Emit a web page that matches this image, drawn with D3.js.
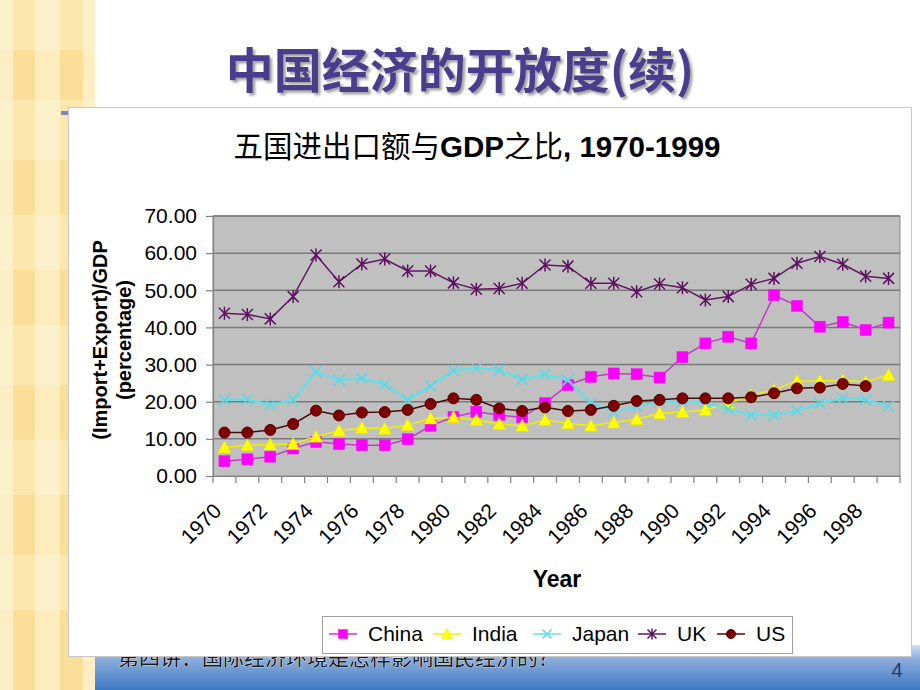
<!DOCTYPE html>
<html><head><meta charset="utf-8">
<script src="https://cdn.jsdelivr.net/npm/d3@7/dist/d3.min.js"></script>
<style>
html,body{margin:0;padding:0;background:#fff;}
svg{display:block;font-family:"Liberation Sans",Arial,sans-serif;}
</style></head>
<body>
<svg id="c" width="920" height="690"></svg>
<script>
const years = [1970,1971,1972,1973,1974,1975,1976,1977,1978,1979,1980,1981,1982,1983,1984,1985,1986,1987,1988,1989,1990,1991,1992,1993,1994,1995,1996,1997,1998,1999];
const tickYears = [1970,1972,1974,1976,1978,1980,1982,1984,1986,1988,1990,1992,1994,1996,1998];
const yTicks = [0,10,20,30,40,50,60,70];
const china = [4.0,4.5,5.2,7.4,9.2,8.6,8.3,8.3,9.9,13.5,15.9,17.3,16.4,15.8,19.6,24.5,26.7,27.6,27.4,26.5,32.0,35.7,37.5,35.7,48.7,45.8,40.2,41.5,39.3,41.3];
const india = [7.7,8.3,8.5,8.6,10.6,12.2,13.0,12.7,13.7,15.5,15.8,15.1,14.0,13.5,15.1,14.2,13.5,14.4,15.3,16.9,17.2,17.8,19.6,21.8,23.2,25.6,25.6,25.8,25.4,27.2];
const japan = [20.5,20.6,19.1,20.5,28.1,25.8,26.3,24.7,20.5,24.2,28.4,29.0,28.5,26.0,27.4,25.8,19.6,17.3,18.7,20.0,20.0,20.0,18.0,16.4,16.4,17.6,19.6,20.9,20.5,18.8];
const uk = [43.8,43.5,42.3,48.3,59.5,52.3,57.1,58.4,55.2,55.2,52.0,50.3,50.5,51.9,56.8,56.5,51.9,51.9,49.6,51.7,50.7,47.4,48.3,51.6,53.2,57.3,59.1,57.0,53.8,53.2];
const us = [11.7,11.7,12.4,14.0,17.6,16.3,17.1,17.2,17.8,19.4,20.9,20.5,18.2,17.5,18.5,17.5,17.8,18.9,20.2,20.5,20.9,20.9,20.9,21.2,22.3,23.6,23.8,24.8,24.2,null];
const seriesNames = ["China","India","Japan","UK","US"];

const series = [
  {name:"China", values:china, line:"#c23cc8", lw:1.5, marker:"square", fill:"#ff00ff", stroke:"#ff00ff"},
  {name:"India", values:india, line:"#f2f000", lw:1.5, marker:"triangle", fill:"#ffff00", stroke:"#e8e000"},
  {name:"Japan", values:japan, line:"#6cdce4", lw:2.5, marker:"x", fill:"none", stroke:"#5cd8e4"},
  {name:"UK", values:uk, line:"#5e1a5e", lw:1.5, marker:"star", fill:"none", stroke:"#5e1060"},
  {name:"US", values:us, line:"#4a0a0a", lw:1.5, marker:"circle", fill:"#800000", stroke:"#500000"}
];

const svg = d3.select("#c");
const defs = svg.append("defs");
const gb = defs.append("linearGradient").attr("id","blueg").attr("x1",0).attr("y1",0).attr("x2",0).attr("y2",1);
gb.append("stop").attr("offset","0%").attr("stop-color","#d4e0f2");
gb.append("stop").attr("offset","30%").attr("stop-color","#8eaedc");
gb.append("stop").attr("offset","100%").attr("stop-color","#3c78c2");
const sh = defs.append("filter").attr("id","tshadow").attr("x","-5%").attr("y","-20%").attr("width","110%").attr("height","140%");
sh.append("feDropShadow").attr("dx",2.5).attr("dy",2.5).attr("stdDeviation",1).attr("flood-color","#9a9a9a").attr("flood-opacity",0.9);
defs.append("clipPath").attr("id","botclip").append("rect").attr("x",95).attr("y",657).attr("width",825).attr("height",33);

// left decorative band
const bg = svg.append("g");
const cols = [[0,13,"#fdf1cc","#fdeec4"],[13,35,"#fce8ae","#fbdf98"],[35,60,"#fdf1cc","#fdecbc"],[60,83,"#fce8ae","#fbdf98"],[83,95,"#fdf1cc","#fdeec6"]];
const rowEdges = [0,50,100,160,215,270,325,385,440,495,555,610,690];
cols.forEach(c=>{
  for(let i=0;i<rowEdges.length-1;i++){
    bg.append("rect").attr("x",c[0]).attr("y",rowEdges[i]).attr("width",c[1]-c[0]).attr("height",rowEdges[i+1]-rowEdges[i])
      .attr("fill", i%2===1 ? c[3] : c[2]);
  }
});

// bottom blue bar
svg.append("rect").attr("x",95).attr("y",645).attr("width",825).attr("height",45).attr("fill","url(#blueg)");
svg.append("text").attr("x",118).attr("y",665).attr("clip-path","url(#botclip)").attr("font-family","'Noto Sans CJK SC',sans-serif").attr("font-size",21)
  .attr("fill","#1a1a1a").attr("stroke","#ffffff").attr("stroke-width",0.6).attr("paint-order","stroke")
  .text("第四讲：国际经济环境是怎样影响国民经济的？");
svg.append("text").attr("x",897).attr("y",677).attr("text-anchor","middle").attr("font-size",20).attr("fill","#1f3a6e").text("4");

// slide title
svg.append("text").attr("x",460).attr("y",88).attr("text-anchor","middle")
  .attr("font-family","'Noto Sans CJK SC',sans-serif").attr("font-weight","bold").attr("font-size",48)
  .attr("fill","#4b3c8e").attr("filter","url(#tshadow)").text("中国经济的开放度(续)");

// white chart box
svg.append("rect").attr("x",61).attr("y",111).attr("width",7).attr("height",4).attr("fill","#7f85c4");
svg.append("rect").attr("x",68.5).attr("y",107.5).attr("width",843).attr("height",549).attr("fill","#ffffff").attr("stroke","#c8c8c8").attr("stroke-width",1);

// chart title
const tt = svg.append("text").attr("x",477).attr("y",157).attr("text-anchor","middle").attr("font-size",29.5).attr("fill","#000");
tt.append("tspan").attr("font-family","'Noto Sans CJK SC',sans-serif").text("五国进出口额与");
tt.append("tspan").attr("font-weight","bold").text("GDP");
tt.append("tspan").attr("font-family","'Noto Sans CJK SC',sans-serif").text("之比");
tt.append("tspan").attr("font-weight","bold").text(", 1970-1999");

// plot
const L=213, R=900, T=216, B=476;
const x = d3.scaleBand().domain(years).range([L,R]).padding(0);
const cx = d => x(d) + x.bandwidth()/2;
const y = d3.scaleLinear().domain([0,70]).range([B,T]);

svg.append("rect").attr("x",L).attr("y",T).attr("width",R-L).attr("height",B-T).attr("fill","#c0c0c0").attr("stroke","#8a8a8a").attr("stroke-width",1);
svg.append("g").selectAll("line").data(yTicks.filter(v=>v>0)).join("line")
  .attr("x1",L).attr("x2",R).attr("y1",d=>y(d)).attr("y2",d=>y(d)).attr("stroke","#7a7a7a").attr("stroke-width",1.5);

// y axis
const ya = svg.append("g").attr("transform",`translate(${L},0)`)
  .call(d3.axisLeft(y).tickValues(yTicks).tickSize(7).tickPadding(9).tickFormat(d3.format(".2f")));
ya.select(".domain").attr("stroke","#808080").attr("stroke-width",1.2);
ya.selectAll(".tick line").attr("stroke","#808080").attr("stroke-width",1.2);
ya.selectAll("text").attr("font-size",21).attr("font-family","'Liberation Sans',Arial,sans-serif").attr("fill","#000");

// x axis
const xa = svg.append("g").attr("transform",`translate(0,${B})`)
  .call(d3.axisBottom(x).tickSize(0).tickFormat(""));
xa.select(".domain").attr("stroke","#808080").attr("stroke-width",1.2);
xa.selectAll(".tick").remove();
const edges = years.map(d=>x(d)).concat([R]);
svg.append("g").selectAll("line").data(edges).join("line")
  .attr("x1",d=>d).attr("x2",d=>d).attr("y1",B).attr("y2",B+7).attr("stroke","#808080").attr("stroke-width",1.2);
svg.append("g").selectAll("text").data(tickYears).join("text")
  .attr("transform",d=>`translate(${cx(d)-7},${B+31}) rotate(-45)`)
  .attr("text-anchor","end").attr("dy","0.35em").attr("font-size",21).attr("fill","#000").text(d=>d);

// axis titles
svg.append("text").attr("x",557).attr("y",587).attr("text-anchor","middle").attr("font-weight","bold").attr("font-size",23).text("Year");
svg.append("text").attr("transform","translate(107,340) rotate(-90)").attr("text-anchor","middle").attr("font-weight","bold").attr("font-size",20).text("(Import+Export)/GDP");
svg.append("text").attr("transform","translate(131,340) rotate(-90)").attr("text-anchor","middle").attr("font-weight","bold").attr("font-size",20).text("(percentage)");

// markers
function drawMarker(g, s, px, py, size){
  const h=size/2;
  if(s.marker==="square"){
    g.append("rect").attr("x",px-h).attr("y",py-h).attr("width",size).attr("height",size).attr("fill",s.fill).attr("stroke",s.stroke).attr("stroke-width",0.5);
  } else if(s.marker==="triangle"){
    g.append("path").attr("d",`M${px},${py-h-1}L${px+h+1},${py+h}L${px-h-1},${py+h}Z`).attr("fill",s.fill).attr("stroke",s.stroke).attr("stroke-width",0.5);
  } else if(s.marker==="x"){
    g.append("path").attr("d",`M${px-h},${py-h}L${px+h},${py+h}M${px-h},${py+h}L${px+h},${py-h}`).attr("stroke",s.stroke).attr("stroke-width",1.6).attr("fill","none");
  } else if(s.marker==="star"){
    g.append("path").attr("d",`M${px-h},${py-h}L${px+h},${py+h}M${px-h},${py+h}L${px+h},${py-h}M${px},${py-h-1}L${px},${py+h+1}`).attr("stroke",s.stroke).attr("stroke-width",1.5).attr("fill","none");
  } else if(s.marker==="circle"){
    g.append("circle").attr("cx",px).attr("cy",py).attr("r",h).attr("fill",s.fill).attr("stroke",s.stroke).attr("stroke-width",1);
  }
}

series.forEach(s=>{
  const g = svg.append("g");
  const pts = years.map((yr,i)=>({yr, v:s.values[i]})).filter(p=>p.v!==null);
  const line = d3.line().x(p=>cx(p.yr)).y(p=>y(p.v));
  g.append("path").attr("d",line(pts)).attr("fill","none").attr("stroke",s.line).attr("stroke-width",s.lw);
  pts.forEach(p=>drawMarker(g, s, cx(p.yr), y(p.v), 11));
});

// legend
const lg = svg.append("g");
lg.append("rect").attr("x",322.5).attr("y",616.5).attr("width",470).attr("height",37).attr("fill","#fff").attr("stroke","#a0a0a0").attr("stroke-width",1);
const legX = [343,447,547,652,731];
series.forEach((s,i)=>{
  const mx = legX[i], my = 634;
  lg.append("line").attr("x1",mx-14).attr("x2",mx+14).attr("y1",my).attr("y2",my).attr("stroke",s.line).attr("stroke-width",Math.min(s.lw,1.5));
  drawMarker(lg, s, mx, my, 9);
  lg.append("text").attr("x",mx+25).attr("y",my).attr("dy","0.35em").attr("font-size",21).attr("fill","#000").text(seriesNames[i]);
});
</script>
</body></html>
